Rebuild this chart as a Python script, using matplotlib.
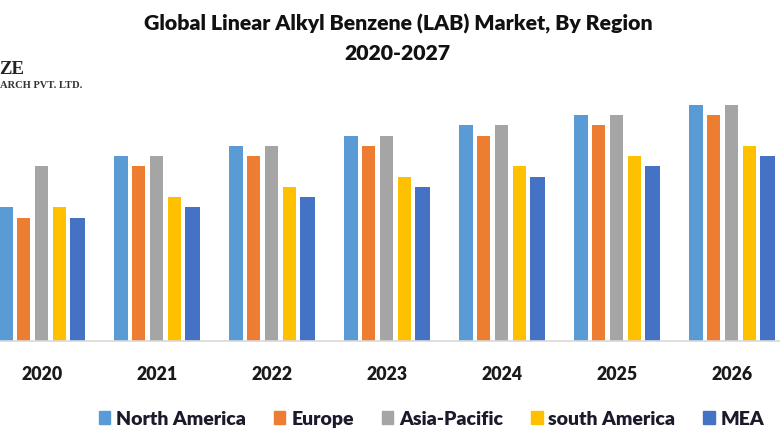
import numpy as np
import matplotlib
matplotlib.use('Agg')
import matplotlib.pyplot as plt
from matplotlib.patches import Patch

years = ['2020', '2021', '2022', '2023', '2024', '2025', '2026']
north_america = [13, 18, 19, 20, 21, 22, 23]
europe = [12, 17, 18, 19, 20, 21, 22]
asia_pacific = [17, 18, 19, 20, 21, 22, 23]
south_america = [13, 14, 15, 16, 17, 18, 19]
mea = [12, 13, 14, 15, 16, 17, 18]

names = ['North America', 'Europe', 'Asia-Pacific', 'south America', 'MEA']
colors = ['#5B9BD5', '#ED7D31', '#A5A5A5', '#FFC000', '#4472C4']
series = [north_america, europe, asia_pacific, south_america, mea]

plt.rcParams['font.family'] = ['Lato', 'DejaVu Sans']

W, H = 780, 440
fig = plt.figure(figsize=(W / 100, H / 100), dpi=100, facecolor='white')
ax = fig.add_axes([0, (H - 341) / H, 1, 341 / H])

# one year is 115 px wide, 2020 is centred at about 42 px
ax.set_xlim(-41.8 / 115, (W - 41.8) / 115)
ax.set_ylim(0, 341 / 10.27)

x = np.arange(len(years))
offsets = np.array([-2, -1, 0, 1, 2]) * 17.9 / 115
widths = np.array([14.5, 13, 13, 13, 14.5]) / 115
for vals, off, wd, col in zip(series, offsets, widths, colors):
    ax.bar(x + off, vals, width=wd, color=col)

for side in ['top', 'left', 'right']:
    ax.spines[side].set_visible(False)
ax.spines['bottom'].set_color('#D9D9D9')
ax.spines['bottom'].set_linewidth(1.2)
ax.set_yticks([])
ax.set_xticks(x)
ax.set_xticklabels(years, fontsize=12.8, fontweight='heavy', color='#1a1a1a')
ax.tick_params(axis='x', length=0, pad=18)

fig.text(398 / W, 1 - 24 / H, 'Global Linear Alkyl Benzene (LAB) Market, By Region',
         ha='center', va='center', fontsize=15.3, fontweight='heavy', color='#111111')
fig.text(397 / W, 1 - 53 / H, '2020-2027',
         ha='center', va='center', fontsize=15.3, fontweight='heavy', color='#111111')

# cut off logo in the corner
fig.text(24 / W, 1 - 69 / H, 'ZE', ha='right', va='center', fontsize=13.5,
         fontweight='bold', family='Liberation Serif', color='#222222')
fig.text(82 / W, 1 - 85 / H, 'ARCH PVT. LTD.', ha='right', va='center', fontsize=7.6,
         fontweight='bold', family='Liberation Serif', color='#333333')

handles = [Patch(color=c, label=n) for c, n in zip(colors, names)]
leg = fig.legend(handles=handles, loc='center', bbox_to_anchor=(431.5 / W, 1 - 419 / H),
                 ncol=5, frameon=False, handlelength=0.6, handleheight=0.6,
                 handletextpad=0.3, columnspacing=1.43,
                 prop={'size': 14, 'weight': 'heavy'})
for t in leg.get_texts():
    t.set_color('#1a1a2a')

fig.savefig('out.png', dpi=100)
plt.close('all')
